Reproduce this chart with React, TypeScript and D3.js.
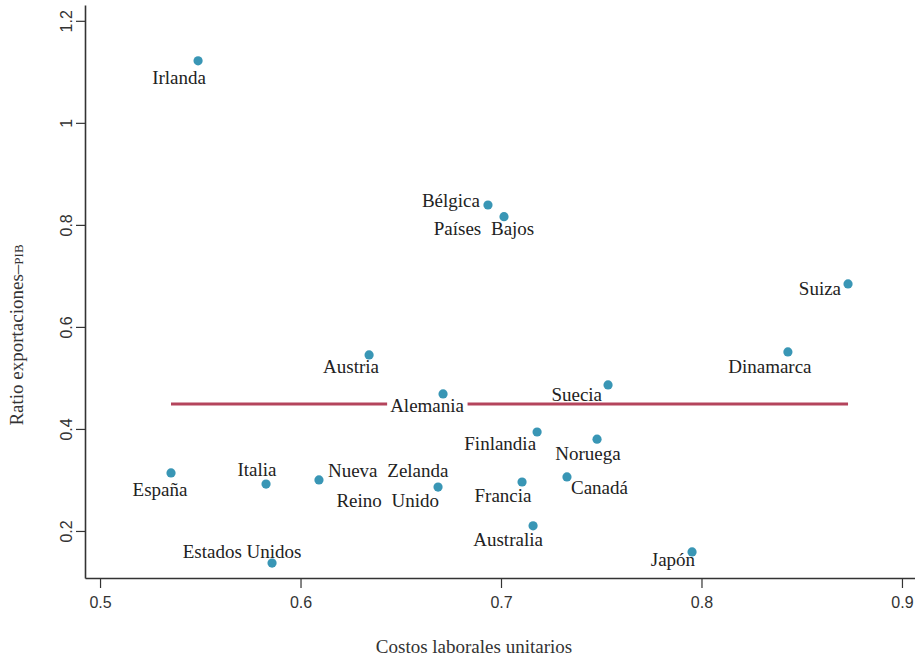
import React, { useEffect, useRef } from "react";
import * as d3 from "d3";

const countries = [
  "Irlanda", "Bélgica", "Países Bajos", "Suiza", "Dinamarca", "Austria",
  "Alemania", "Suecia", "Finlandia", "Noruega", "Nueva Zelanda", "Reino Unido",
  "Francia", "Canadá", "España", "Italia", "Estados Unidos", "Australia", "Japón",
];
const costos = [
  0.5489, 0.6935, 0.7015, 0.8731, 0.8431, 0.6342,
  0.6711, 0.7534, 0.718, 0.7479, 0.6092, 0.6686,
  0.7105, 0.7329, 0.5354, 0.5828, 0.5858, 0.716, 0.7953,
];
const ratio = [
  1.1216, 0.839, 0.816, 0.6843, 0.551, 0.545,
  0.4686, 0.4863, 0.394, 0.38, 0.3, 0.286,
  0.296, 0.306, 0.3137, 0.292, 0.137, 0.21, 0.159,
];
const meanRatio = 0.449;
const xTicks = [0.5, 0.6, 0.7, 0.8, 0.9];
const yTicks = [0.2, 0.4, 0.6, 0.8, 1, 1.2];
const xTitle = "Costos laborales unitarios";
const yTitleMain = "Ratio exportaciones–";
const yTitleSmall = "pib";

// label layout: [anchor, dx, dy, boxed, wordSpacing]
const labelLayout: [string, number, number, boolean, number][] = [
  ["middle", -19, 23, false, 0],
  ["end", -8, 2, false, 0],
  ["middle", -20, 18, false, 5],
  ["end", -7, 11, false, 0],
  ["middle", -18, 21, false, 0],
  ["middle", -18, 18, false, 0],
  ["middle", -16, 18, true, 0],
  ["end", -6, 16, false, 0],
  ["end", -1, 18, false, 0],
  ["middle", -9, 21, false, 0],
  ["start", 9, -3, false, 5],
  ["end", 1, 20, false, 5],
  ["middle", -19, 20, false, 0],
  ["start", 4, 17, false, 0],
  ["middle", -11, 23, false, 0],
  ["middle", -9, -8, false, 0],
  ["middle", -30, -5, false, 0],
  ["middle", -25, 20, false, 0],
  ["end", 3, 14, false, 0],
];

const W = 915;
const H = 660;
const SERIF = "'Liberation Serif', 'DejaVu Serif', serif";
const SANS = "'Liberation Sans', Arial, sans-serif";

export default function App() {
  const ref = useRef<SVGSVGElement>(null);

  useEffect(() => {
    const svg = d3.select(ref.current);
    svg.selectAll("*").remove();

    const x = d3.scaleLinear().domain([0.4925, 0.9065]).range([85, 915]);
    const y = d3.scaleLinear().domain([0.1078, 1.231]).range([578, 5]);

    // x axis
    const gx = svg.append("g").attr("transform", `translate(0,${y.range()[0]})`)
      .call(d3.axisBottom(x).tickValues(xTicks).tickFormat(d3.format("")).tickSize(10).tickSizeOuter(0).tickPadding(9));
    gx.select(".domain").attr("stroke", "#333").attr("stroke-width", 1.6);
    gx.selectAll(".tick line").attr("stroke", "#333").attr("stroke-width", 1.2);
    gx.selectAll("text").attr("font-family", SANS).attr("font-size", 16).attr("fill", "#333");

    // y axis
    const gy = svg.append("g").attr("transform", `translate(${x.range()[0]},0)`)
      .call(d3.axisLeft(y).tickValues(yTicks).tickFormat(d3.format("")).tickSize(9).tickSizeOuter(0));
    gy.select(".domain").attr("stroke", "#333").attr("stroke-width", 1.6);
    gy.selectAll(".tick line").attr("stroke", "#333").attr("stroke-width", 1.2);
    gy.selectAll("text")
      .attr("font-family", SANS).attr("font-size", 16).attr("fill", "#333")
      .attr("transform", "rotate(-90)")
      .attr("x", 0).attr("y", -13).attr("dy", "0")
      .attr("text-anchor", "middle");

    // titles
    svg.append("text")
      .attr("x", 474).attr("y", 653)
      .attr("text-anchor", "middle")
      .attr("font-family", SERIF).attr("font-size", 19).attr("fill", "#333")
      .text(xTitle);

    const yt = svg.append("text")
      .attr("transform", `translate(23,335) rotate(-90)`)
      .attr("text-anchor", "middle")
      .attr("font-family", SERIF).attr("font-size", 19).attr("fill", "#333");
    yt.append("tspan").text(yTitleMain);
    yt.append("tspan").attr("font-variant", "small-caps").style("font-variant", "small-caps").text(yTitleSmall);

    // mean line
    const [xMin, xMax] = d3.extent(costos) as [number, number];
    svg.append("line")
      .attr("x1", x(xMin)).attr("x2", x(xMax))
      .attr("y1", y(meanRatio)).attr("y2", y(meanRatio))
      .attr("stroke", "#b4445c").attr("stroke-width", 3);

    // labels
    const lg = svg.append("g");
    countries.forEach((c, i) => {
      const [anchor, dx, dy, boxed, ws] = labelLayout[i];
      const px = x(costos[i]);
      const py = y(ratio[i]);
      const t = lg.append("text")
        .attr("x", px + dx).attr("y", py + dy)
        .attr("text-anchor", anchor)
        .attr("font-family", SERIF).attr("font-size", 19).attr("fill", "#222")
        .style("word-spacing", `${ws}px`)
        .text(c);
      if (boxed) {
        const bb = (t.node() as SVGTextElement).getBBox();
        lg.insert("rect", "text")
          .attr("x", bb.x - 3).attr("y", bb.y).attr("width", bb.width + 6).attr("height", bb.height)
          .attr("fill", "white");
      }
    });

    // points
    svg.append("g").selectAll("circle")
      .data(countries.map((c, i) => ({ c, x: costos[i], y: ratio[i] })))
      .join("circle")
      .attr("cx", (d) => x(d.x))
      .attr("cy", (d) => y(d.y))
      .attr("r", 4.6)
      .attr("fill", "#3996b5");
  }, []);

  return (
    <svg
      ref={ref}
      width={W}
      height={H}
      style={{ position: "absolute", left: 0, top: 0, background: "white" }}
    />
  );
}
